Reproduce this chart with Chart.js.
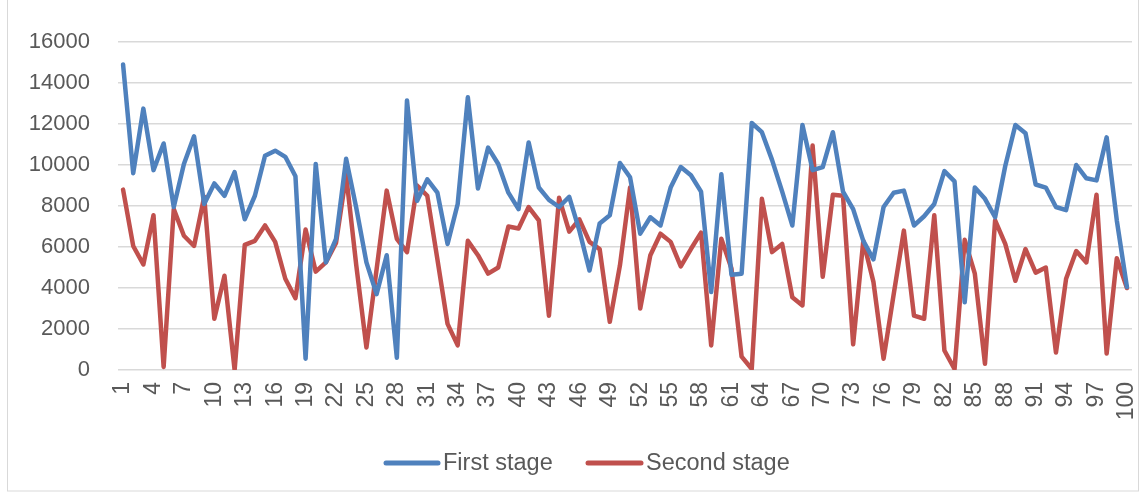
<!DOCTYPE html>
<html>
<head>
<meta charset="utf-8">
<script src="https://cdn.jsdelivr.net/npm/chart.js@4"></script>
<style>
  html, body { margin: 0; padding: 0; background: #ffffff; }
  #wrap { position: relative; width: 1145px; height: 493px; }
  canvas { display: block; }
</style>
</head>
<body>
<div id="wrap"><canvas id="c" width="1145" height="493"></canvas></div>
<script>
// Sample index (1..100)
const categories = [
  1, 2, 3, 4, 5, 6, 7, 8, 9, 10, 11, 12, 13, 14, 15, 16, 17, 18, 19, 20,
  21, 22, 23, 24, 25, 26, 27, 28, 29, 30, 31, 32, 33, 34, 35, 36, 37, 38, 39, 40,
  41, 42, 43, 44, 45, 46, 47, 48, 49, 50, 51, 52, 53, 54, 55, 56, 57, 58, 59, 60,
  61, 62, 63, 64, 65, 66, 67, 68, 69, 70, 71, 72, 73, 74, 75, 76, 77, 78, 79, 80,
  81, 82, 83, 84, 85, 86, 87, 88, 89, 90, 91, 92, 93, 94, 95, 96, 97, 98, 99, 100
];

const firstStage = [
  14900, 9600, 12750, 9750, 11050, 7950, 10050, 11400, 8100, 9100,
  8500, 9650, 7350, 8500, 10450, 10700, 10400, 9450, 550, 10050,
  5250, 6400, 10300, 7900, 5250, 3700, 5600, 600, 13150, 8250,
  9300, 8650, 6150, 8100, 13300, 8850, 10850, 10050, 8650, 7850,
  11100, 8900, 8300, 7950, 8450, 6800, 4850, 7150, 7550, 10100,
  9400, 6650, 7450, 7050, 8900, 9900, 9500, 8700, 3800, 9550,
  4650, 4700, 12050, 11600, 10250, 8700, 7050, 11950, 9750, 9900,
  11600, 8700, 7850, 6300, 5400, 7950, 8650, 8750, 7050, 7500,
  8100, 9700, 9200, 3300, 8900, 8350, 7450, 9950, 11950, 11550,
  9050, 8900, 7950, 7800, 10000, 9350, 9250, 11350, 7300, 4050
];

const secondStage = [
  8800, 6050, 5150, 7550, 150, 7850, 6550, 6050, 8450, 2500,
  4600, 0, 6100, 6300, 7050, 6250, 4450, 3500, 6850, 4800,
  5250, 6200, 9500, 5100, 1100, 4900, 8750, 6400, 5750, 9000,
  8500, 5400, 2250, 1200, 6300, 5600, 4700, 5000, 7000, 6900,
  7950, 7300, 2650, 8400, 6750, 7350, 6250, 5900, 2350, 5100,
  8900, 3000, 5600, 6650, 6250, 5050, 5900, 6700, 1200, 6400,
  4950, 650, 50, 8350, 5750, 6150, 3550, 3150, 10950, 4550,
  8550, 8500, 1250, 6300, 4300, 550, 3700, 6800, 2650, 2500,
  7550, 950, 50, 6350, 4700, 300, 7300, 6150, 4350, 5900,
  4750, 5000, 850, 4450, 5800, 5250, 8550, 800, 5450, 4000
];

const seriesNames = ['First stage', 'Second stage'];
const seriesColors = ['#4F81BD', '#C0504D'];

const yTicks = { min: 0, max: 16000, step: 2000 };

const FONT = '"Liberation Sans", Arial, sans-serif';
const TEXT = '#595959';
const GRID = '#d9d9d9';

// Thin frame around the whole chart
const framePlugin = {
  id: 'frame',
  beforeDraw(chart) {
    const ctx = chart.ctx;
    ctx.save();
    ctx.strokeStyle = '#d9d9d9';
    ctx.lineWidth = 1;
    ctx.strokeRect(7.5, -1, 1131, 492);
    ctx.restore();
  }
};

// Legend drawn as short line samples followed by the series names
const lineLegendPlugin = {
  id: 'lineLegend',
  afterDraw(chart) {
    const ctx = chart.ctx;
    const y = 463;
    const items = [
      { x: 386, textX: 443 },
      { x: 588, textX: 646 }
    ];
    ctx.save();
    ctx.font = '23.5px ' + FONT;
    ctx.textBaseline = 'middle';
    ctx.textAlign = 'left';
    chart.data.datasets.forEach((ds, i) => {
      const it = items[i];
      ctx.strokeStyle = ds.borderColor;
      ctx.lineWidth = 5;
      ctx.lineCap = 'round';
      ctx.beginPath();
      ctx.moveTo(it.x, y);
      ctx.lineTo(it.textX - 5, y);
      ctx.stroke();
      ctx.fillStyle = TEXT;
      ctx.fillText(ds.label, it.textX, y + 1);
    });
    ctx.restore();
  }
};

new Chart(document.getElementById('c'), {
  type: 'line',
  data: {
    labels: categories,
    datasets: [
      {
        label: seriesNames[0],
        data: firstStage,
        borderColor: seriesColors[0],
        backgroundColor: seriesColors[0],
        borderWidth: 4.5,
        pointRadius: 0,
        tension: 0,
        borderJoinStyle: 'round',
        borderCapStyle: 'round'
      },
      {
        label: seriesNames[1],
        data: secondStage,
        borderColor: seriesColors[1],
        backgroundColor: seriesColors[1],
        borderWidth: 4.5,
        pointRadius: 0,
        tension: 0,
        borderJoinStyle: 'round',
        borderCapStyle: 'round'
      }
    ]
  },
  options: {
    responsive: false,
    animation: false,
    devicePixelRatio: 1,
    layout: { padding: { left: 0, right: 13, top: 42, bottom: 60 } },
    plugins: {
      legend: { display: false },
      tooltip: { enabled: false }
    },
    scales: {
      x: {
        type: 'category',
        offset: true,
        grid: { display: false, drawTicks: false },
        border: { display: false },
        ticks: {
          autoSkip: false,
          minRotation: 90,
          maxRotation: 90,
          padding: 12,
          color: TEXT,
          font: { family: FONT, size: 23 },
          callback(value, index) {
            return index % 3 === 0 ? this.getLabelForValue(value) : '';
          }
        },
        afterFit(scale) {
          scale.height = 63;
          scale.paddingLeft = 0;
          scale.paddingRight = 0;
        }
      },
      y: {
        min: yTicks.min,
        max: yTicks.max,
        grid: { color: GRID, lineWidth: 1.5, drawTicks: false },
        border: { display: false },
        ticks: {
          stepSize: yTicks.step,
          padding: 28,
          color: TEXT,
          font: { family: FONT, size: 22 },
          callback(value) { return String(value); }
        },
        afterFit(scale) {
          scale.width = 118;
          scale.paddingTop = 0;
          scale.paddingBottom = 0;
        }
      }
    }
  },
  plugins: [framePlugin, lineLegendPlugin]
});
</script>
</body>
</html>
